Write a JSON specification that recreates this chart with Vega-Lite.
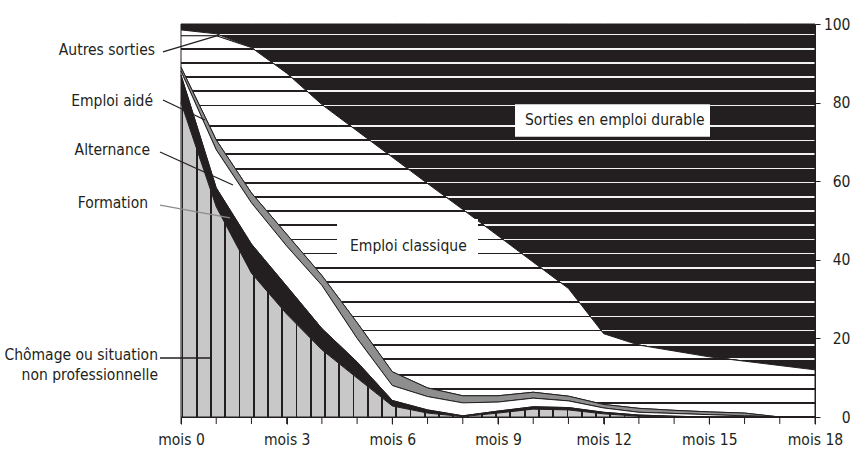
{
  "$schema": "https://vega.github.io/schema/vega-lite/v6.json",
  "width": 634,
  "height": 393,
  "autosize": {"type": "none"},
  "padding": {"left": 181, "top": 24, "right": 39, "bottom": 33},
  "background": "white",
  "config": {"view": {"stroke": null}, "font": "DejaVu Sans Condensed, Liberation Sans, sans-serif"},
  "layer": [
    {
      "data": {"values": [
        {"mois":0,"cat":"Chômage","val":80,"rang":1},{"mois":0,"cat":"Formation","val":7,"rang":2},{"mois":0,"cat":"Alternance","val":1,"rang":3},{"mois":0,"cat":"Emploi aidé","val":1,"rang":4},{"mois":0,"cat":"Emploi classique","val":8,"rang":5},{"mois":0,"cat":"Autres sorties","val":1.5,"rang":6},{"mois":0,"cat":"Sorties en emploi durable","val":1.5,"rang":7},
        {"mois":1,"cat":"Chômage","val":53.5,"rang":1},{"mois":1,"cat":"Formation","val":4.8,"rang":2},{"mois":1,"cat":"Alternance","val":9.7,"rang":3},{"mois":1,"cat":"Emploi aidé","val":2.5,"rang":4},{"mois":1,"cat":"Emploi classique","val":26.5,"rang":5},{"mois":1,"cat":"Autres sorties","val":0.5,"rang":6},{"mois":1,"cat":"Sorties en emploi durable","val":2.5,"rang":7},
        {"mois":2,"cat":"Chômage","val":36.6,"rang":1},{"mois":2,"cat":"Formation","val":7.4,"rang":2},{"mois":2,"cat":"Alternance","val":10.5,"rang":3},{"mois":2,"cat":"Emploi aidé","val":2.5,"rang":4},{"mois":2,"cat":"Emploi classique","val":37.0,"rang":5},{"mois":2,"cat":"Autres sorties","val":0,"rang":6},{"mois":2,"cat":"Sorties en emploi durable","val":6,"rang":7},
        {"mois":3,"cat":"Chômage","val":26.2,"rang":1},{"mois":3,"cat":"Formation","val":7.1,"rang":2},{"mois":3,"cat":"Alternance","val":10.2,"rang":3},{"mois":3,"cat":"Emploi aidé","val":3.0,"rang":4},{"mois":3,"cat":"Emploi classique","val":41.0,"rang":5},{"mois":3,"cat":"Autres sorties","val":0,"rang":6},{"mois":3,"cat":"Sorties en emploi durable","val":12.5,"rang":7},
        {"mois":4,"cat":"Chômage","val":17.1,"rang":1},{"mois":4,"cat":"Formation","val":5.4,"rang":2},{"mois":4,"cat":"Alternance","val":11.0,"rang":3},{"mois":4,"cat":"Emploi aidé","val":2.5,"rang":4},{"mois":4,"cat":"Emploi classique","val":43.5,"rang":5},{"mois":4,"cat":"Autres sorties","val":0,"rang":6},{"mois":4,"cat":"Sorties en emploi durable","val":20.5,"rang":7},
        {"mois":5,"cat":"Chômage","val":9.9,"rang":1},{"mois":5,"cat":"Formation","val":4.1,"rang":2},{"mois":5,"cat":"Alternance","val":6.0,"rang":3},{"mois":5,"cat":"Emploi aidé","val":4.0,"rang":4},{"mois":5,"cat":"Emploi classique","val":48.8,"rang":5},{"mois":5,"cat":"Autres sorties","val":0,"rang":6},{"mois":5,"cat":"Sorties en emploi durable","val":27.2,"rang":7},
        {"mois":6,"cat":"Chômage","val":2.8,"rang":1},{"mois":6,"cat":"Formation","val":1.4,"rang":2},{"mois":6,"cat":"Alternance","val":3.8,"rang":3},{"mois":6,"cat":"Emploi aidé","val":3.5,"rang":4},{"mois":6,"cat":"Emploi classique","val":54.6,"rang":5},{"mois":6,"cat":"Autres sorties","val":0,"rang":6},{"mois":6,"cat":"Sorties en emploi durable","val":33.9,"rang":7},
        {"mois":7,"cat":"Chômage","val":1.0,"rang":1},{"mois":7,"cat":"Formation","val":0.8,"rang":2},{"mois":7,"cat":"Alternance","val":3.4,"rang":3},{"mois":7,"cat":"Emploi aidé","val":2.2,"rang":4},{"mois":7,"cat":"Emploi classique","val":52.0,"rang":5},{"mois":7,"cat":"Autres sorties","val":0,"rang":6},{"mois":7,"cat":"Sorties en emploi durable","val":40.6,"rang":7},
        {"mois":8,"cat":"Chômage","val":0.1,"rang":1},{"mois":8,"cat":"Formation","val":0.2,"rang":2},{"mois":8,"cat":"Alternance","val":3.3,"rang":3},{"mois":8,"cat":"Emploi aidé","val":1.8,"rang":4},{"mois":8,"cat":"Emploi classique","val":47.4,"rang":5},{"mois":8,"cat":"Autres sorties","val":0,"rang":6},{"mois":8,"cat":"Sorties en emploi durable","val":47.2,"rang":7},
        {"mois":9,"cat":"Chômage","val":1.0,"rang":1},{"mois":9,"cat":"Formation","val":0.5,"rang":2},{"mois":9,"cat":"Alternance","val":2.3,"rang":3},{"mois":9,"cat":"Emploi aidé","val":1.6,"rang":4},{"mois":9,"cat":"Emploi classique","val":40.7,"rang":5},{"mois":9,"cat":"Autres sorties","val":0,"rang":6},{"mois":9,"cat":"Sorties en emploi durable","val":53.9,"rang":7},
        {"mois":10,"cat":"Chômage","val":2.0,"rang":1},{"mois":10,"cat":"Formation","val":0.6,"rang":2},{"mois":10,"cat":"Alternance","val":2.2,"rang":3},{"mois":10,"cat":"Emploi aidé","val":1.5,"rang":4},{"mois":10,"cat":"Emploi classique","val":33.1,"rang":5},{"mois":10,"cat":"Autres sorties","val":0,"rang":6},{"mois":10,"cat":"Sorties en emploi durable","val":60.6,"rang":7},
        {"mois":11,"cat":"Chômage","val":1.8,"rang":1},{"mois":11,"cat":"Formation","val":0.6,"rang":2},{"mois":11,"cat":"Alternance","val":1.7,"rang":3},{"mois":11,"cat":"Emploi aidé","val":1.2,"rang":4},{"mois":11,"cat":"Emploi classique","val":27.4,"rang":5},{"mois":11,"cat":"Autres sorties","val":0,"rang":6},{"mois":11,"cat":"Sorties en emploi durable","val":67.3,"rang":7},
        {"mois":12,"cat":"Chômage","val":0.8,"rang":1},{"mois":12,"cat":"Formation","val":0.4,"rang":2},{"mois":12,"cat":"Alternance","val":1.1,"rang":3},{"mois":12,"cat":"Emploi aidé","val":0.9,"rang":4},{"mois":12,"cat":"Emploi classique","val":18.0,"rang":5},{"mois":12,"cat":"Autres sorties","val":0,"rang":6},{"mois":12,"cat":"Sorties en emploi durable","val":78.8,"rang":7},
        {"mois":13,"cat":"Chômage","val":0.2,"rang":1},{"mois":13,"cat":"Formation","val":0.3,"rang":2},{"mois":13,"cat":"Alternance","val":0.7,"rang":3},{"mois":13,"cat":"Emploi aidé","val":1.0,"rang":4},{"mois":13,"cat":"Emploi classique","val":16.1,"rang":5},{"mois":13,"cat":"Autres sorties","val":0,"rang":6},{"mois":13,"cat":"Sorties en emploi durable","val":81.7,"rang":7},
        {"mois":14,"cat":"Chômage","val":0,"rang":1},{"mois":14,"cat":"Formation","val":0.2,"rang":2},{"mois":14,"cat":"Alternance","val":0.7,"rang":3},{"mois":14,"cat":"Emploi aidé","val":0.8,"rang":4},{"mois":14,"cat":"Emploi classique","val":15.1,"rang":5},{"mois":14,"cat":"Autres sorties","val":0,"rang":6},{"mois":14,"cat":"Sorties en emploi durable","val":83.2,"rang":7},
        {"mois":15,"cat":"Chômage","val":0,"rang":1},{"mois":15,"cat":"Formation","val":0,"rang":2},{"mois":15,"cat":"Alternance","val":0.6,"rang":3},{"mois":15,"cat":"Emploi aidé","val":0.7,"rang":4},{"mois":15,"cat":"Emploi classique","val":14.0,"rang":5},{"mois":15,"cat":"Autres sorties","val":0,"rang":6},{"mois":15,"cat":"Sorties en emploi durable","val":84.7,"rang":7},
        {"mois":16,"cat":"Chômage","val":0,"rang":1},{"mois":16,"cat":"Formation","val":0,"rang":2},{"mois":16,"cat":"Alternance","val":0.3,"rang":3},{"mois":16,"cat":"Emploi aidé","val":0.7,"rang":4},{"mois":16,"cat":"Emploi classique","val":13.2,"rang":5},{"mois":16,"cat":"Autres sorties","val":0,"rang":6},{"mois":16,"cat":"Sorties en emploi durable","val":85.8,"rang":7},
        {"mois":17,"cat":"Chômage","val":0,"rang":1},{"mois":17,"cat":"Formation","val":0,"rang":2},{"mois":17,"cat":"Alternance","val":0,"rang":3},{"mois":17,"cat":"Emploi aidé","val":0,"rang":4},{"mois":17,"cat":"Emploi classique","val":13.1,"rang":5},{"mois":17,"cat":"Autres sorties","val":0,"rang":6},{"mois":17,"cat":"Sorties en emploi durable","val":86.9,"rang":7},
        {"mois":18,"cat":"Chômage","val":0,"rang":1},{"mois":18,"cat":"Formation","val":0,"rang":2},{"mois":18,"cat":"Alternance","val":0,"rang":3},{"mois":18,"cat":"Emploi aidé","val":0,"rang":4},{"mois":18,"cat":"Emploi classique","val":12.0,"rang":5},{"mois":18,"cat":"Autres sorties","val":0,"rang":6},{"mois":18,"cat":"Sorties en emploi durable","val":88.0,"rang":7}
      ]},
      "transform": [{"stack": "val", "groupby": ["mois"], "sort": [{"field": "rang", "order": "ascending"}], "as": ["bas", "haut"]}],
      "encoding": {
        "x": {"field": "mois", "type": "quantitative", "title": null,
              "scale": {"domain": [0, 18], "nice": false, "zero": false},
              "axis": {"values": [0,3,6,9,12,15,18],
                       "labelExpr": "'mois ' + datum.value",
                       "grid": false, "tickSize": 7, "tickColor": "#231f20", "domainColor": "#231f20",
                       "labelFontSize": 15.5, "labelColor": "#231f20", "labelPadding": 8,
                       "labelOverlap": false, "labelFlush": false, "title": null}},
        "y": {"field": "haut", "type": "quantitative", "title": null,
              "scale": {"domain": [0, 100], "nice": false},
              "axis": {"orient": "right", "values": [0,20,40,60,80,100], "grid": false, "tickSize": 5,
                       "labelAlign": "right", "labelPadding": 30, "labelFontSize": 15.5, "labelColor": "#231f20",
                       "tickColor": "#231f20", "domainColor": "#231f20", "title": null}},
        "y2": {"field": "bas"}
      },
      "layer": [
        {"transform": [{"filter": "datum.rang == 7"}],
         "mark": {"type": "area", "stroke": "#231f20", "strokeWidth": 1,
                  "fill": {"gradient": "linear", "x1": 0, "y1": 0, "x2": 0, "y2": 1, "stops": [
                    {"offset":0,"color":"#231f20"},
                    {"offset":0.0282,"color":"#231f20"},{"offset":0.0282,"color":"#f2f2f2"},{"offset":0.0332,"color":"#f2f2f2"},{"offset":0.0332,"color":"#231f20"},
                    {"offset":0.0697,"color":"#231f20"},{"offset":0.0697,"color":"#f2f2f2"},{"offset":0.0747,"color":"#f2f2f2"},{"offset":0.0747,"color":"#231f20"},
                    {"offset":0.1100,"color":"#231f20"},{"offset":0.1100,"color":"#f2f2f2"},{"offset":0.1150,"color":"#f2f2f2"},{"offset":0.1150,"color":"#231f20"},
                    {"offset":0.1514,"color":"#231f20"},{"offset":0.1514,"color":"#f2f2f2"},{"offset":0.1564,"color":"#f2f2f2"},{"offset":0.1564,"color":"#231f20"},
                    {"offset":0.1918,"color":"#231f20"},{"offset":0.1918,"color":"#f2f2f2"},{"offset":0.1968,"color":"#f2f2f2"},{"offset":0.1968,"color":"#231f20"},
                    {"offset":0.2331,"color":"#231f20"},{"offset":0.2331,"color":"#f2f2f2"},{"offset":0.2381,"color":"#f2f2f2"},{"offset":0.2381,"color":"#231f20"},
                    {"offset":0.2930,"color":"#231f20"},{"offset":0.2930,"color":"#f2f2f2"},{"offset":0.2980,"color":"#f2f2f2"},{"offset":0.2980,"color":"#231f20"},
                    {"offset":0.3340,"color":"#231f20"},{"offset":0.3340,"color":"#f2f2f2"},{"offset":0.3390,"color":"#f2f2f2"},{"offset":0.3390,"color":"#231f20"},
                    {"offset":0.3743,"color":"#231f20"},{"offset":0.3743,"color":"#f2f2f2"},{"offset":0.3793,"color":"#f2f2f2"},{"offset":0.3793,"color":"#231f20"},
                    {"offset":0.4157,"color":"#231f20"},{"offset":0.4157,"color":"#f2f2f2"},{"offset":0.4207,"color":"#f2f2f2"},{"offset":0.4207,"color":"#231f20"},
                    {"offset":0.4561,"color":"#231f20"},{"offset":0.4561,"color":"#f2f2f2"},{"offset":0.4611,"color":"#f2f2f2"},{"offset":0.4611,"color":"#231f20"},
                    {"offset":0.4975,"color":"#231f20"},{"offset":0.4975,"color":"#f2f2f2"},{"offset":0.5025,"color":"#f2f2f2"},{"offset":0.5025,"color":"#231f20"},
                    {"offset":0.5378,"color":"#231f20"},{"offset":0.5378,"color":"#f2f2f2"},{"offset":0.5428,"color":"#f2f2f2"},{"offset":0.5428,"color":"#231f20"},
                    {"offset":0.5793,"color":"#231f20"},{"offset":0.5793,"color":"#f2f2f2"},{"offset":0.5843,"color":"#f2f2f2"},{"offset":0.5843,"color":"#231f20"},
                    {"offset":0.6205,"color":"#231f20"},{"offset":0.6205,"color":"#f2f2f2"},{"offset":0.6255,"color":"#f2f2f2"},{"offset":0.6255,"color":"#231f20"},
                    {"offset":0.6609,"color":"#231f20"},{"offset":0.6609,"color":"#f2f2f2"},{"offset":0.6659,"color":"#f2f2f2"},{"offset":0.6659,"color":"#231f20"},
                    {"offset":0.7022,"color":"#231f20"},{"offset":0.7022,"color":"#f2f2f2"},{"offset":0.7072,"color":"#f2f2f2"},{"offset":0.7072,"color":"#231f20"},
                    {"offset":0.7426,"color":"#231f20"},{"offset":0.7426,"color":"#f2f2f2"},{"offset":0.7476,"color":"#f2f2f2"},{"offset":0.7476,"color":"#231f20"},
                    {"offset":0.8022,"color":"#231f20"},{"offset":0.8022,"color":"#f2f2f2"},{"offset":0.8072,"color":"#f2f2f2"},{"offset":0.8072,"color":"#231f20"},
                    {"offset":0.8435,"color":"#231f20"},{"offset":0.8435,"color":"#f2f2f2"},{"offset":0.8485,"color":"#f2f2f2"},{"offset":0.8485,"color":"#231f20"},
                    {"offset":0.8839,"color":"#231f20"},{"offset":0.8839,"color":"#f2f2f2"},{"offset":0.8889,"color":"#f2f2f2"},{"offset":0.8889,"color":"#231f20"},
                    {"offset":0.9252,"color":"#231f20"},{"offset":0.9252,"color":"#f2f2f2"},{"offset":0.9302,"color":"#f2f2f2"},{"offset":0.9302,"color":"#231f20"},
                    {"offset":0.9657,"color":"#231f20"},{"offset":0.9657,"color":"#f2f2f2"},{"offset":0.9707,"color":"#f2f2f2"},{"offset":0.9707,"color":"#231f20"},
                    {"offset":1,"color":"#231f20"}]}}},
        {"transform": [{"filter": "datum.rang == 6"}],
         "mark": {"type": "area", "fill": "#ffffff", "stroke": "#231f20", "strokeWidth": 1}},
        {"transform": [{"filter": "datum.rang == 5"}],
         "mark": {"type": "area", "stroke": "#231f20", "strokeWidth": 1,
                  "fill": {"gradient": "linear", "x1": 0, "y1": 0, "x2": 0, "y2": 1, "stops": [
                    {"offset":0,"color":"#ffffff"},
                    {"offset":0.0322,"color":"#ffffff"},{"offset":0.0322,"color":"#231f20"},{"offset":0.0368,"color":"#231f20"},{"offset":0.0368,"color":"#ffffff"},
                    {"offset":0.0688,"color":"#ffffff"},{"offset":0.0688,"color":"#231f20"},{"offset":0.0734,"color":"#231f20"},{"offset":0.0734,"color":"#ffffff"},
                    {"offset":0.1064,"color":"#ffffff"},{"offset":0.1064,"color":"#231f20"},{"offset":0.1110,"color":"#231f20"},{"offset":0.1110,"color":"#ffffff"},
                    {"offset":0.1431,"color":"#ffffff"},{"offset":0.1431,"color":"#231f20"},{"offset":0.1477,"color":"#231f20"},{"offset":0.1477,"color":"#ffffff"},
                    {"offset":0.1805,"color":"#ffffff"},{"offset":0.1805,"color":"#231f20"},{"offset":0.1851,"color":"#231f20"},{"offset":0.1851,"color":"#ffffff"},
                    {"offset":0.2348,"color":"#ffffff"},{"offset":0.2348,"color":"#231f20"},{"offset":0.2394,"color":"#231f20"},{"offset":0.2394,"color":"#ffffff"},
                    {"offset":0.2720,"color":"#ffffff"},{"offset":0.2720,"color":"#231f20"},{"offset":0.2766,"color":"#231f20"},{"offset":0.2766,"color":"#ffffff"},
                    {"offset":0.3086,"color":"#ffffff"},{"offset":0.3086,"color":"#231f20"},{"offset":0.3132,"color":"#231f20"},{"offset":0.3132,"color":"#ffffff"},
                    {"offset":0.3462,"color":"#ffffff"},{"offset":0.3462,"color":"#231f20"},{"offset":0.3508,"color":"#231f20"},{"offset":0.3508,"color":"#ffffff"},
                    {"offset":0.3829,"color":"#ffffff"},{"offset":0.3829,"color":"#231f20"},{"offset":0.3875,"color":"#231f20"},{"offset":0.3875,"color":"#ffffff"},
                    {"offset":0.4204,"color":"#ffffff"},{"offset":0.4204,"color":"#231f20"},{"offset":0.4250,"color":"#231f20"},{"offset":0.4250,"color":"#ffffff"},
                    {"offset":0.4570,"color":"#ffffff"},{"offset":0.4570,"color":"#231f20"},{"offset":0.4616,"color":"#231f20"},{"offset":0.4616,"color":"#ffffff"},
                    {"offset":0.4946,"color":"#ffffff"},{"offset":0.4946,"color":"#231f20"},{"offset":0.4992,"color":"#231f20"},{"offset":0.4992,"color":"#ffffff"},
                    {"offset":0.5319,"color":"#ffffff"},{"offset":0.5319,"color":"#231f20"},{"offset":0.5365,"color":"#231f20"},{"offset":0.5365,"color":"#ffffff"},
                    {"offset":0.5686,"color":"#ffffff"},{"offset":0.5686,"color":"#231f20"},{"offset":0.5732,"color":"#231f20"},{"offset":0.5732,"color":"#ffffff"},
                    {"offset":0.6061,"color":"#ffffff"},{"offset":0.6061,"color":"#231f20"},{"offset":0.6107,"color":"#231f20"},{"offset":0.6107,"color":"#ffffff"},
                    {"offset":0.6428,"color":"#ffffff"},{"offset":0.6428,"color":"#231f20"},{"offset":0.6474,"color":"#231f20"},{"offset":0.6474,"color":"#ffffff"},
                    {"offset":0.6968,"color":"#ffffff"},{"offset":0.6968,"color":"#231f20"},{"offset":0.7014,"color":"#231f20"},{"offset":0.7014,"color":"#ffffff"},
                    {"offset":0.7343,"color":"#ffffff"},{"offset":0.7343,"color":"#231f20"},{"offset":0.7389,"color":"#231f20"},{"offset":0.7389,"color":"#ffffff"},
                    {"offset":0.7709,"color":"#ffffff"},{"offset":0.7709,"color":"#231f20"},{"offset":0.7755,"color":"#231f20"},{"offset":0.7755,"color":"#ffffff"},
                    {"offset":0.8084,"color":"#ffffff"},{"offset":0.8084,"color":"#231f20"},{"offset":0.8130,"color":"#231f20"},{"offset":0.8130,"color":"#ffffff"},
                    {"offset":0.8451,"color":"#ffffff"},{"offset":0.8451,"color":"#231f20"},{"offset":0.8497,"color":"#231f20"},{"offset":0.8497,"color":"#ffffff"},
                    {"offset":0.8870,"color":"#ffffff"},{"offset":0.8870,"color":"#231f20"},{"offset":0.8916,"color":"#231f20"},{"offset":0.8916,"color":"#ffffff"},
                    {"offset":0.9236,"color":"#ffffff"},{"offset":0.9236,"color":"#231f20"},{"offset":0.9282,"color":"#231f20"},{"offset":0.9282,"color":"#ffffff"},
                    {"offset":0.9611,"color":"#ffffff"},{"offset":0.9611,"color":"#231f20"},{"offset":0.9657,"color":"#231f20"},{"offset":0.9657,"color":"#ffffff"},
                    {"offset":1,"color":"#ffffff"}]}}},
        {"transform": [{"filter": "datum.rang == 4"}],
         "mark": {"type": "area", "fill": "#8e8e8e", "stroke": "#231f20", "strokeWidth": 1}},
        {"transform": [{"filter": "datum.rang == 3"}],
         "mark": {"type": "area", "fill": "#ffffff", "stroke": "#231f20", "strokeWidth": 1}},
        {"transform": [{"filter": "datum.rang == 2"}],
         "mark": {"type": "area", "fill": "#231f20", "stroke": "#231f20", "strokeWidth": 1}},
        {"transform": [{"filter": "datum.rang == 1"}],
         "mark": {"type": "area", "stroke": "#231f20", "strokeWidth": 1,
                  "fill": {"gradient": "linear", "x1": 0, "y1": 0, "x2": 1, "y2": 0, "stops": [
                    {"offset":0,"color":"#c8c8c8"},
                    {"offset":0.0008,"color":"#c8c8c8"},{"offset":0.0008,"color":"#231f20"},{"offset":0.0036,"color":"#231f20"},{"offset":0.0036,"color":"#c8c8c8"},
                    {"offset":0.0233,"color":"#c8c8c8"},{"offset":0.0233,"color":"#231f20"},{"offset":0.0261,"color":"#231f20"},{"offset":0.0261,"color":"#c8c8c8"},
                    {"offset":0.0458,"color":"#c8c8c8"},{"offset":0.0458,"color":"#231f20"},{"offset":0.0486,"color":"#231f20"},{"offset":0.0486,"color":"#c8c8c8"},
                    {"offset":0.0683,"color":"#c8c8c8"},{"offset":0.0683,"color":"#231f20"},{"offset":0.0711,"color":"#231f20"},{"offset":0.0711,"color":"#c8c8c8"},
                    {"offset":0.0908,"color":"#c8c8c8"},{"offset":0.0908,"color":"#231f20"},{"offset":0.0936,"color":"#231f20"},{"offset":0.0936,"color":"#c8c8c8"},
                    {"offset":0.1133,"color":"#c8c8c8"},{"offset":0.1133,"color":"#231f20"},{"offset":0.1161,"color":"#231f20"},{"offset":0.1161,"color":"#c8c8c8"},
                    {"offset":0.1358,"color":"#c8c8c8"},{"offset":0.1358,"color":"#231f20"},{"offset":0.1386,"color":"#231f20"},{"offset":0.1386,"color":"#c8c8c8"},
                    {"offset":0.1583,"color":"#c8c8c8"},{"offset":0.1583,"color":"#231f20"},{"offset":0.1611,"color":"#231f20"},{"offset":0.1611,"color":"#c8c8c8"},
                    {"offset":0.1807,"color":"#c8c8c8"},{"offset":0.1807,"color":"#231f20"},{"offset":0.1835,"color":"#231f20"},{"offset":0.1835,"color":"#c8c8c8"},
                    {"offset":0.2032,"color":"#c8c8c8"},{"offset":0.2032,"color":"#231f20"},{"offset":0.2060,"color":"#231f20"},{"offset":0.2060,"color":"#c8c8c8"},
                    {"offset":0.2257,"color":"#c8c8c8"},{"offset":0.2257,"color":"#231f20"},{"offset":0.2285,"color":"#231f20"},{"offset":0.2285,"color":"#c8c8c8"},
                    {"offset":0.2482,"color":"#c8c8c8"},{"offset":0.2482,"color":"#231f20"},{"offset":0.2510,"color":"#231f20"},{"offset":0.2510,"color":"#c8c8c8"},
                    {"offset":0.2707,"color":"#c8c8c8"},{"offset":0.2707,"color":"#231f20"},{"offset":0.2735,"color":"#231f20"},{"offset":0.2735,"color":"#c8c8c8"},
                    {"offset":0.2932,"color":"#c8c8c8"},{"offset":0.2932,"color":"#231f20"},{"offset":0.2960,"color":"#231f20"},{"offset":0.2960,"color":"#c8c8c8"},
                    {"offset":0.3157,"color":"#c8c8c8"},{"offset":0.3157,"color":"#231f20"},{"offset":0.3185,"color":"#231f20"},{"offset":0.3185,"color":"#c8c8c8"},
                    {"offset":0.3382,"color":"#c8c8c8"},{"offset":0.3382,"color":"#231f20"},{"offset":0.3410,"color":"#231f20"},{"offset":0.3410,"color":"#c8c8c8"},
                    {"offset":0.3607,"color":"#c8c8c8"},{"offset":0.3607,"color":"#231f20"},{"offset":0.3635,"color":"#231f20"},{"offset":0.3635,"color":"#c8c8c8"},
                    {"offset":0.3832,"color":"#c8c8c8"},{"offset":0.3832,"color":"#231f20"},{"offset":0.3860,"color":"#231f20"},{"offset":0.3860,"color":"#c8c8c8"},
                    {"offset":0.4057,"color":"#c8c8c8"},{"offset":0.4057,"color":"#231f20"},{"offset":0.4085,"color":"#231f20"},{"offset":0.4085,"color":"#c8c8c8"},
                    {"offset":0.4282,"color":"#c8c8c8"},{"offset":0.4282,"color":"#231f20"},{"offset":0.4310,"color":"#231f20"},{"offset":0.4310,"color":"#c8c8c8"},
                    {"offset":0.4507,"color":"#c8c8c8"},{"offset":0.4507,"color":"#231f20"},{"offset":0.4535,"color":"#231f20"},{"offset":0.4535,"color":"#c8c8c8"},
                    {"offset":0.4731,"color":"#c8c8c8"},{"offset":0.4731,"color":"#231f20"},{"offset":0.4759,"color":"#231f20"},{"offset":0.4759,"color":"#c8c8c8"},
                    {"offset":0.4956,"color":"#c8c8c8"},{"offset":0.4956,"color":"#231f20"},{"offset":0.4984,"color":"#231f20"},{"offset":0.4984,"color":"#c8c8c8"},
                    {"offset":0.5181,"color":"#c8c8c8"},{"offset":0.5181,"color":"#231f20"},{"offset":0.5209,"color":"#231f20"},{"offset":0.5209,"color":"#c8c8c8"},
                    {"offset":0.5406,"color":"#c8c8c8"},{"offset":0.5406,"color":"#231f20"},{"offset":0.5434,"color":"#231f20"},{"offset":0.5434,"color":"#c8c8c8"},
                    {"offset":0.5631,"color":"#c8c8c8"},{"offset":0.5631,"color":"#231f20"},{"offset":0.5659,"color":"#231f20"},{"offset":0.5659,"color":"#c8c8c8"},
                    {"offset":0.5856,"color":"#c8c8c8"},{"offset":0.5856,"color":"#231f20"},{"offset":0.5884,"color":"#231f20"},{"offset":0.5884,"color":"#c8c8c8"},
                    {"offset":0.6081,"color":"#c8c8c8"},{"offset":0.6081,"color":"#231f20"},{"offset":0.6109,"color":"#231f20"},{"offset":0.6109,"color":"#c8c8c8"},
                    {"offset":0.6306,"color":"#c8c8c8"},{"offset":0.6306,"color":"#231f20"},{"offset":0.6334,"color":"#231f20"},{"offset":0.6334,"color":"#c8c8c8"},
                    {"offset":0.6531,"color":"#c8c8c8"},{"offset":0.6531,"color":"#231f20"},{"offset":0.6559,"color":"#231f20"},{"offset":0.6559,"color":"#c8c8c8"},
                    {"offset":0.6756,"color":"#c8c8c8"},{"offset":0.6756,"color":"#231f20"},{"offset":0.6784,"color":"#231f20"},{"offset":0.6784,"color":"#c8c8c8"},
                    {"offset":0.6981,"color":"#c8c8c8"},{"offset":0.6981,"color":"#231f20"},{"offset":0.7009,"color":"#231f20"},{"offset":0.7009,"color":"#c8c8c8"},
                    {"offset":0.7206,"color":"#c8c8c8"},{"offset":0.7206,"color":"#231f20"},{"offset":0.7234,"color":"#231f20"},{"offset":0.7234,"color":"#c8c8c8"},
                    {"offset":1,"color":"#c8c8c8"}]}}},
        {"transform": [{"filter": "datum.rang == 1"}],
         "mark": {"type": "rule", "color": "#231f20", "strokeWidth": 1},
         "encoding": {"y": {"datum": 0}, "y2": {"datum": -1.78}}}
      ]
    },
    {"data": {"values": [{}]}, "mark": {"type": "rect", "fill": "#ffffff"},
     "encoding": {"x": {"datum": 4.429}, "x2": {"datum": 8.432}, "y": {"datum": 50.38}, "y2": {"datum": 39.19}}},
    {"data": {"values": [{}]}, "mark": {"type": "rect", "fill": "#ffffff"},
     "encoding": {"x": {"datum": 9.483}, "x2": {"datum": 15.019}, "y": {"datum": 79.57}, "y2": {"datum": 71.32}}},
    {"data": {"values": [{}]}, "mark": {"type": "text", "text": "Emploi classique", "align": "left", "baseline": "middle", "fontSize": 15.5, "color": "#231f20"},
     "encoding": {"x": {"datum": 4.798}, "y": {"datum": 43.51}}},
    {"data": {"values": [{}]}, "mark": {"type": "text", "text": "Sorties en emploi durable", "align": "left", "baseline": "middle", "fontSize": 15.5, "color": "#231f20"},
     "encoding": {"x": {"datum": 9.767}, "y": {"datum": 75.57}}},
    {"data": {"values": [{}]}, "mark": {"type": "rule", "color": "#231f20", "strokeWidth": 1.3},
     "encoding": {"x": {"datum": -0.511}, "y": {"datum": 92.88}, "x2": {"datum": 1.079}, "y2": {"datum": 97.2}}},
    {"data": {"values": [{}]}, "mark": {"type": "rule", "color": "#231f20", "strokeWidth": 1.3},
     "encoding": {"x": {"datum": -0.511}, "y": {"datum": 80.66}, "x2": {"datum": 0.681}, "y2": {"datum": 75.57}}},
    {"data": {"values": [{}]}, "mark": {"type": "rule", "color": "#231f20", "strokeWidth": 1.3},
     "encoding": {"x": {"datum": -0.596}, "y": {"datum": 67.43}, "x2": {"datum": 1.476}, "y2": {"datum": 59.03}}},
    {"data": {"values": [{}]}, "mark": {"type": "rule", "color": "#8c8c8c", "strokeWidth": 1.3},
     "encoding": {"x": {"datum": -0.596}, "y": {"datum": 53.94}, "x2": {"datum": 1.391}, "y2": {"datum": 50.64}}},
    {"data": {"values": [{}]}, "mark": {"type": "rule", "color": "#231f20", "strokeWidth": 1.3},
     "encoding": {"x": {"datum": -0.596}, "y": {"datum": 15.01}, "x2": {"datum": 0.852}, "y2": {"datum": 15.01}}},
    {"data": {"values": [{}]}, "mark": {"type": "text", "text": "Autres sorties", "align": "right", "baseline": "middle", "fontSize": 15.5, "color": "#231f20"},
     "encoding": {"x": {"datum": -0.738}, "y": {"datum": 93.38}}},
    {"data": {"values": [{}]}, "mark": {"type": "text", "text": "Emploi aidé", "align": "right", "baseline": "middle", "fontSize": 15.5, "color": "#231f20"},
     "encoding": {"x": {"datum": -0.795}, "y": {"datum": 80.41}}},
    {"data": {"values": [{}]}, "mark": {"type": "text", "text": "Alternance", "align": "right", "baseline": "middle", "fontSize": 15.5, "color": "#231f20"},
     "encoding": {"x": {"datum": -0.88}, "y": {"datum": 67.94}}},
    {"data": {"values": [{}]}, "mark": {"type": "text", "text": "Formation", "align": "right", "baseline": "middle", "fontSize": 15.5, "color": "#231f20"},
     "encoding": {"x": {"datum": -0.937}, "y": {"datum": 54.45}}},
    {"data": {"values": [{}]}, "mark": {"type": "text", "text": ["Chômage ou situation", "non professionnelle"], "align": "right", "baseline": "middle", "lineHeight": 20, "fontSize": 15.5, "color": "#231f20"},
     "encoding": {"x": {"datum": -0.653}, "y": {"datum": 15.78}}}
  ]
}
